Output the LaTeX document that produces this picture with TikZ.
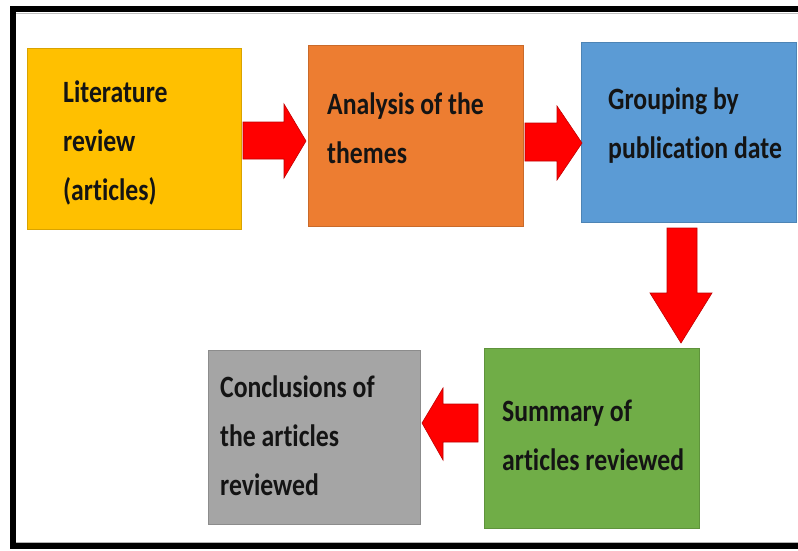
\documentclass[tikz,border=0pt]{standalone}
\usepackage{fontspec}
\newfontfamily\boxfont{Carlito}[FakeStretch=0.83, Ligatures=NoCommon]
\definecolor{cyellow}{HTML}{FFC000}
\definecolor{corange}{HTML}{ED7D31}
\definecolor{cblue}{HTML}{5B9BD5}
\definecolor{cgray}{HTML}{A5A5A5}
\definecolor{cgreen}{HTML}{70AD47}
\definecolor{cred}{HTML}{FF0000}
\definecolor{credline}{HTML}{C00000}
\definecolor{ctext}{HTML}{141414}
\tikzset{
  box/.style={rectangle, inner sep=0pt, draw=#1!85!black, line width=0.6pt, fill=#1},
  txt/.style={anchor=base west, align=left, inner sep=0pt, text=ctext,
    font=\boxfont\bfseries\fontsize{31}{49}\selectfont},
  blockarrow/.style={fill=cred, draw=credline, line width=0.6pt, line join=miter}
}
\begin{document}
\begin{tikzpicture}[x=1pt,y=-1pt]
\useasboundingbox (0,0) rectangle (798,550);
\fill[white] (0,0) rectangle (798,550);
% frame
\draw[line width=6pt] (800,9) -- (13,9) -- (13,546) -- (800,546);
\draw[gray!50, line width=1pt] (16,13) -- (800,13);
\draw[gray!60, line width=1pt] (16,542) -- (800,542);
% boxes
\node[box=cyellow, minimum width=214pt, minimum height=181pt] (b1) at (134,138.5) {};
\node[box=corange, minimum width=215pt, minimum height=181pt] (b2) at (415.5,135.5) {};
\node[box=cblue, minimum width=215pt, minimum height=180pt] (b3) at (688.5,132) {};
\node[box=cgray, minimum width=212pt, minimum height=174pt] (b4) at (314,437) {};
\node[box=cgreen, minimum width=215pt, minimum height=180pt] (b5) at (591.5,438) {};
% texts (anchor = baseline of last line)
\node[txt] (t1) at (63,200) {Literature\\review\\(articles)};
\node[txt] (t2) at (327,163) {Analysis of the\\themes};
\node[txt] (t3) at (608,158) {Grouping by\\publication date};
\node[txt] (t4) at (220,495) {Conclusions of\\the articles\\reviewed};
\node[txt] (t5) at (502,470) {Summary of\\articles reviewed};
% arrows
\draw[blockarrow] (243,122) -- (284,122) -- (284,104) -- (306,141) -- (284,178) -- (284,159) -- (243,159) -- cycle;
\draw[blockarrow] (525,123) -- (557,123) -- (557,106) -- (582,143) -- (557,180) -- (557,161) -- (525,161) -- cycle;
\draw[blockarrow] (667,228) -- (697,228) -- (697,293) -- (712,293) -- (681,343) -- (650,293) -- (667,293) -- cycle;
\draw[blockarrow] (478,404) -- (443,404) -- (443,388) -- (422,423) -- (443,460) -- (443,442) -- (478,442) -- cycle;
\end{tikzpicture}
\end{document}
